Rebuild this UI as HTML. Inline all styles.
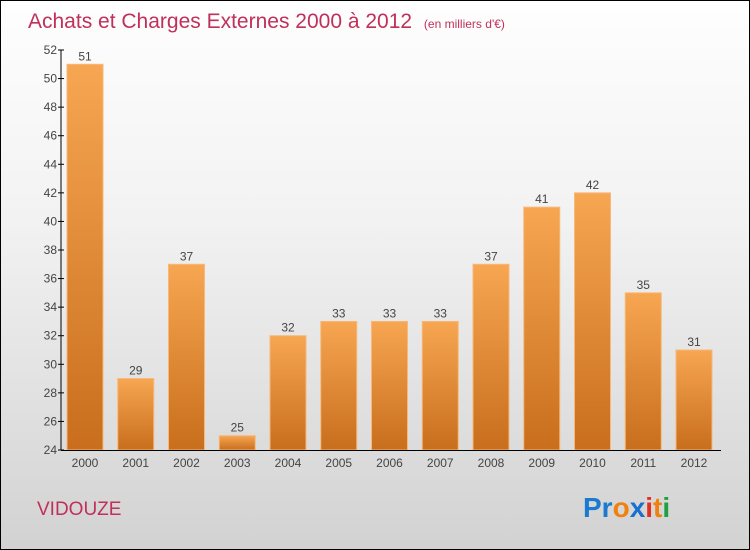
<!DOCTYPE html>
<html><head><meta charset="utf-8"><style>
body{margin:0}
#c{width:748px;height:548px;border:1px solid #000;background:linear-gradient(#fefefe,#f2f2f2 40%,#d2d2d2);position:relative;font-family:"Liberation Sans",sans-serif;overflow:hidden}
</style></head><body>
<div id="c">
<svg id="s" width="748" height="548">
<defs><linearGradient id="g" x1="0" y1="0" x2="0" y2="1"><stop offset="0" stop-color="#f7a652"/><stop offset="1" stop-color="#c86e1c"/></linearGradient></defs>
<text x="27" y="27" font-size="21" fill="#c0305a">Achats et Charges Externes 2000 à 2012 <tspan font-size="12" dx="6">(en milliers d'€)</tspan></text>
<text x="36" y="514" font-size="19" fill="#c0305a">VIDOUZE</text>
<g font-size="28" font-weight="bold" font-family="Liberation Sans,sans-serif">
<text x="582" y="516"><tspan fill="#1a7ad0">Pr</tspan><tspan fill="#f08010">o</tspan><tspan fill="#1a70d0">x</tspan><tspan fill="#e03020">i</tspan><tspan fill="#f08010">t</tspan><tspan fill="#20a040">i</tspan></text></g>
<g id="bars"></g><g id="axes"></g>
</svg></div>
<script>
const years=["2000","2001","2002","2003","2004","2005","2006","2007","2008","2009","2010","2011","2012"];
const values=[51,29,37,25,32,33,33,33,37,41,42,35,31];
const yTicks=[24,26,28,30,32,34,36,38,40,42,44,46,48,50,52];
const NS="http://www.w3.org/2000/svg";
const x0=60,x1=720,yTop=49,yBot=449,vMin=24,vMax=52;
const y=v=>yBot-(v-vMin)/(vMax-vMin)*(yBot-yTop);
const step=50.75,bw=36;
const xc=i=>84+i*step;
function mk(t,a,p){const e=document.createElementNS(NS,t);for(const k in a)e.setAttribute(k,a[k]);p.appendChild(e);return e;}
const B=document.getElementById('bars'),A=document.getElementById('axes');
values.forEach((v,i)=>{
 const r=mk('rect',{x:xc(i)-bw/2,y:y(v),width:bw,height:yBot-y(v),fill:'url(#g)',stroke:'#f8b878','stroke-width':1},B);
 
 
 const t=mk('text',{x:xc(i),y:y(v)-4,'text-anchor':'middle','font-size':12,fill:'#444'},B);t.textContent=v;
 
 
 const l=mk('text',{x:xc(i),y:466,'text-anchor':'middle','font-size':12,fill:'#444'},A);l.textContent=years[i];
 
 
});
const ya=mk('line',{x1:x0,y1:yTop,x2:x0,y2:yBot,stroke:'#000'},A);


const xa=mk('line',{x1:x0,y1:yBot+0.5,x2:x1,y2:yBot+0.5,stroke:'#000'},A);


yTicks.forEach(v=>{
 mk('line',{x1:x0-3,y1:y(v),x2:x0+3,y2:y(v),stroke:'#000'},A);
 const t=mk('text',{x:x0-4,y:y(v)+4,'text-anchor':'end','font-size':12,fill:'#444'},A);t.textContent=v;
 
 
});
</script></body></html>
